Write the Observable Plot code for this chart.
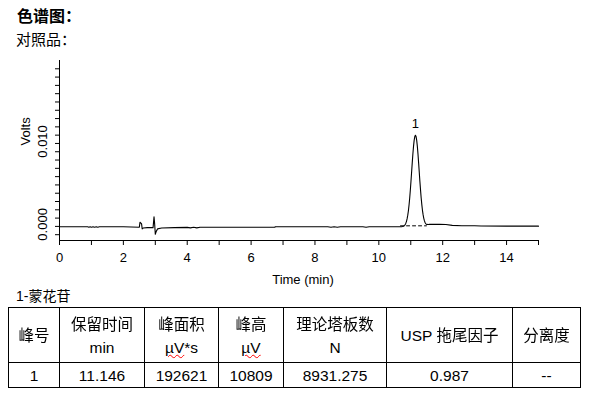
<!DOCTYPE html>
<html>
<head>
<meta charset="utf-8">
<script src="https://cdn.jsdelivr.net/npm/d3@7"></script>
<script src="https://cdn.jsdelivr.net/npm/@observablehq/plot@0.6"></script>
<style>
  html, body { margin: 0; padding: 0; background: #fff; width: 589px; height: 398px; overflow: hidden; }
  body { position: relative; font-family: "Liberation Sans", Arial, sans-serif; color: #000; }
  .abs { position: absolute; white-space: nowrap; }
  .cjk { font-family: "Noto Sans CJK SC"; }
  td .cjk { display: inline-block; filter: grayscale(1); }
  #title { left: 17px; top: 5px; font-size: 16px; font-weight: bold; line-height: 20px; }
  #sub { left: 16px; top: 29px; font-size: 15px; line-height: 20px; }
  #chart { left: 0; top: 50px; }
  #cap { left: 16px; top: 285px; font-size: 14px; line-height: 20px; }
  table { position: absolute; left: 8px; top: 307px; border-collapse: collapse; font-size: 15.5px; table-layout: fixed; }
  td { border: 1px solid #000; text-align: center; padding: 0; line-height: 23px; }
  tr.h td { height: 54px; }
  tr.d td { height: 24px; }
  .sq { text-decoration: underline wavy red; text-decoration-thickness: 1px; }
</style>
</head>
<body>
<div id="title" class="abs cjk">色谱图：</div>
<div id="sub" class="abs cjk">对照品：</div>
<div id="chart" class="abs"></div>
<div id="cap" class="abs">1-<span class="cjk">蒙花苷</span></div>
<div id="tbl"></div>
<script>
// Chromatogram trace (time in min, signal in volts)
const time = [
  0, 0.88, 0.92, 0.96, 1.00, 1.05, 1.10, 1.15, 1.20, 1.25, 2.00, 2.50,
  2.52, 2.55, 2.57, 2.59, 2.62, 2.75, 2.93, 2.96, 2.98, 3.00, 3.03, 3.07, 3.20, 3.60,
  4.00, 4.10, 4.20, 4.30, 4.40, 5.50, 6.74, 6.76, 8.40, 8.50, 8.60, 8.70, 8.80, 9.50, 9.60, 9.70, 10.50, 10.66,
  10.706, 10.746, 10.786, 10.806, 10.826, 10.846, 10.866, 10.886, 10.906, 10.926, 10.946, 10.966, 10.986, 11.006, 11.026, 11.046, 11.066, 11.086, 11.106, 11.126, 11.146,
  11.166, 11.186, 11.206, 11.226, 11.246, 11.266, 11.286, 11.306, 11.326, 11.346, 11.366, 11.386, 11.406, 11.426, 11.446, 11.466, 11.486, 11.506, 11.546, 11.586, 11.700, 11.900, 12.100, 12.300, 12.600, 13.000, 13.200, 14.000, 15.000
];
const volts = [
  -0.00005, -0.00005, -0.0001, -0.00005, -0.0001, -0.00005, -0.0001, -0.00005, -0.0001, -0.00005, -0.00005, -0.0001,
  0.0005, 0.0004, 0.0003, -0.0003, -0.0002, -0.00015, -0.00015, 0.00115, 0.0003, -0.00095, -0.0006, -0.0003, -0.0002, -0.00015,
  -0.00012, -0.00018, -0.0001, -0.00018, -0.0001, -0.0001, -0.0001, -0.00004, -0.00004, -0.0001, -0.00004, -0.0001, -0.00004, -0.00004, -0.0001, -0.00004, -0.00005, -0.00005,
  -0.00004, -0.00001, 0.00005, 0.00012, 0.00023, 0.00039, 0.00061, 0.00093, 0.00135, 0.00189, 0.00258, 0.00340, 0.00435, 0.00541, 0.00653, 0.00766, 0.00872, 0.00965, 0.01037, 0.01083, 0.01099,
  0.01083, 0.01037, 0.00965, 0.00872, 0.00766, 0.00653, 0.00541, 0.00437, 0.00343, 0.00262, 0.00194, 0.00141, 0.00100, 0.00069, 0.00048, 0.00034, 0.00027, 0.00024, 0.00023, 0.00024, 0.00025, 0.00024, 0.00022, 0.00012, 0.00008, 0.00007, 0.00004, 0.00003, 0.00003
];
// Integration baseline under the peak (dashed)
const baseTime = [10.68, 11.49];
const baseVolts = [0.00007, 0.00007];
// Peak labels
const peakNames = ["1"];
const peakTimes = [11.146];
const peakHeights = [0.01099];
// Axes
const xDomain = [0, 15];
const yDomain = [-0.0017, 0.0200];
const xTicks = [0, 1, 2, 3, 4, 5, 6, 7, 8, 9, 10, 11, 12, 13, 14, 15];
const xLabelTicks = [0, 2, 4, 6, 8, 10, 12, 14];
const yTicks = [-0.001, 0, 0.001, 0.002, 0.003, 0.004, 0.005, 0.006, 0.007, 0.008, 0.009, 0.010, 0.011, 0.012, 0.013, 0.014, 0.015, 0.016, 0.017, 0.018, 0.019];
const yLabelTicks = [0, 0.010];
const yLabelTexts = ["0.000", "0.010"];
const xTitle = "Time (min)";
const yTitle = "Volts";
// Table
const headers1 = ["峰号", "保留时间", "峰面积", "峰高", "理论塔板数", "拖尾因子", "分离度"];
const headerPrefix = ["", "", "", "", "", "USP ", ""];
const headers2 = ["", "min", "µV*s", "µV", "N", "", ""];
const rowValues = ["1", "11.146", "192621", "10809", "8931.275", "0.987", "--"];
const colWidths = [51, 85, 74, 65, 103, 126, 68];

const chart = Plot.plot({
  width: 589,
  height: 235,
  marginTop: 10,
  marginLeft: 59,
  marginRight: 51,
  marginBottom: 45,
  style: { fontFamily: "'Liberation Sans', Arial, sans-serif", fontSize: "13px", color: "#000", background: "#fff", overflow: "visible" },
  x: { domain: xDomain },
  y: { domain: yDomain },
  marks: [
    Plot.axisX(xTicks, { tickSize: 5, tickPadding: 7, fontSize: 13, tickFormat: d => xLabelTicks.includes(d) ? String(d) : "" }),
    Plot.axisY(yTicks, { tickSize: 4, tickFormat: () => "" }),
    Plot.ruleX([xDomain[0]], { y1: yDomain[0], y2: yDomain[1], stroke: "#000" }),
    Plot.ruleY([yDomain[0]], { x1: xDomain[0], x2: xDomain[1], stroke: "#000" }),
    Plot.text(yLabelTicks, { y: d => d, text: (d, i) => yLabelTexts[i], frameAnchor: "left", dx: -17, dy: -2, rotate: -90, fontSize: 13, textAnchor: "middle", lineAnchor: "middle" }),
    Plot.text([yTitle], { text: d => d, frameAnchor: "left", dx: -34, dy: -5, rotate: -90, fontSize: 13, lineAnchor: "middle" }),
    Plot.text([xTitle], { text: d => d, frameAnchor: "bottom", dx: 4, dy: 39, fontSize: 13, lineAnchor: "middle" }),
    Plot.line(baseTime, { x: baseTime, y: baseVolts, stroke: "#000", strokeWidth: 1, strokeDasharray: "3,3" }),
    Plot.line(time, { x: time, y: volts, stroke: "#000", strokeWidth: 1.1 }),
    Plot.text(peakNames, { x: peakTimes, y: peakHeights, text: peakNames, dy: -11, fontSize: 13, fill: "#000", lineAnchor: "middle" })
  ]
});
document.getElementById("chart").appendChild(chart);

// Build the table
const table = document.createElement("table");
const cg = document.createElement("colgroup");
colWidths.forEach(w => { const c = document.createElement("col"); c.style.width = w + "px"; cg.appendChild(c); });
table.appendChild(cg);
const trh = document.createElement("tr"); trh.className = "h";
headers1.forEach((h, i) => {
  const td = document.createElement("td");
  if (headerPrefix[i]) td.appendChild(document.createTextNode(headerPrefix[i]));
  const cj = document.createElement("span"); cj.className = "cjk"; cj.textContent = h;
  td.appendChild(cj);
  if (headers2[i]) {
    td.appendChild(document.createElement("br"));
    const s = headers2[i];
    if (s.startsWith("µV")) {
      const sp = document.createElement("span"); sp.className = "sq"; sp.textContent = "µV";
      td.appendChild(sp);
      td.appendChild(document.createTextNode(s.slice(2)));
    } else td.appendChild(document.createTextNode(s));
  }
  trh.appendChild(td);
});
table.appendChild(trh);
const trd = document.createElement("tr"); trd.className = "d";
rowValues.forEach(v => { const td = document.createElement("td"); td.textContent = v; trd.appendChild(td); });
table.appendChild(trd);
document.getElementById("tbl").appendChild(table);
</script>
</body>
</html>
